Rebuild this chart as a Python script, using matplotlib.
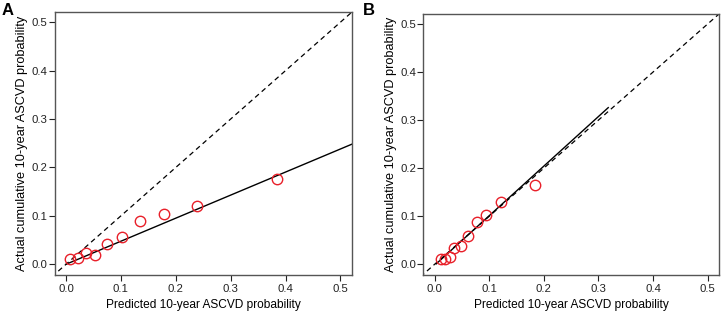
import numpy as np
import matplotlib.pyplot as plt

plt.rcParams['font.family'] = ['Liberation Sans', 'DejaVu Sans']

# Panel A: calibration points (predicted vs actual)
pred_a = [0.007, 0.022, 0.036, 0.053, 0.075, 0.102, 0.135, 0.179, 0.239, 0.385]
obs_a = [0.010, 0.012, 0.023, 0.019, 0.042, 0.056, 0.090, 0.103, 0.120, 0.177]
# fitted line for A (x range, y values)
fit_a_x = [0.0, 0.525]
fit_a_y = [0.0, 0.250]

# Panel B
pred_b = [0.011, 0.019, 0.028, 0.036, 0.048, 0.061, 0.077, 0.095, 0.121, 0.184]
obs_b = [0.012, 0.012, 0.016, 0.034, 0.038, 0.058, 0.088, 0.103, 0.130, 0.165]
fit_b_x = [0.003, 0.318]
fit_b_y = [0.001, 0.326]

ticks = [0.0, 0.1, 0.2, 0.3, 0.4, 0.5]
tick_labels = ['0.0', '0.1', '0.2', '0.3', '0.4', '0.5']

fig = plt.figure(figsize=(7.22, 3.16), dpi=100)
ax_a = fig.add_axes([0.0755, 0.130, 0.412, 0.832])
ax_b = fig.add_axes([0.586, 0.130, 0.410, 0.826])


def draw_panel(ax, px, py, fx, fy, letter, lx):
    ax.plot([-0.05, 0.6], [-0.05, 0.6], color='black', linestyle=(0, (4, 3)), lw=0.9)
    ax.plot(fx, fy, color='black', lw=1.0)
    ax.plot(px, py, 'o', markersize=7.5, markerfacecolor='none',
            markeredgecolor='#e8202a', markeredgewidth=1.0)
    ax.set_xlim(-0.021, 0.521)
    ax.set_ylim(-0.022, 0.521)
    ax.set_xticks(ticks)
    ax.set_xticklabels(tick_labels)
    ax.set_yticks(ticks)
    ax.set_yticklabels(tick_labels)
    ax.tick_params(direction='out', length=4.3, width=0.8, labelsize=8.2,
                   colors='#222222')
    ax.tick_params(axis='y', pad=0.8)
    ax.tick_params(axis='x', pad=2.0)
    for s in ax.spines.values():
        s.set_color('#555555')
        s.set_linewidth(1.0)
    ax.set_xlabel('Predicted 10-year ASCVD probability', fontsize=8.6, labelpad=3.5)
    ax.set_ylabel('Actual cumulative 10-year ASCVD probability', fontsize=9.2, labelpad=2.5)
    fig.text(lx, 0.99, letter, fontsize=12, fontweight='bold', va='top', ha='left')


draw_panel(ax_a, pred_a, obs_a, fit_a_x, fit_a_y, 'A', 0.002)
draw_panel(ax_b, pred_b, obs_b, fit_b_x, fit_b_y, 'B', 0.502)

fig.savefig('out.png', dpi=100)
